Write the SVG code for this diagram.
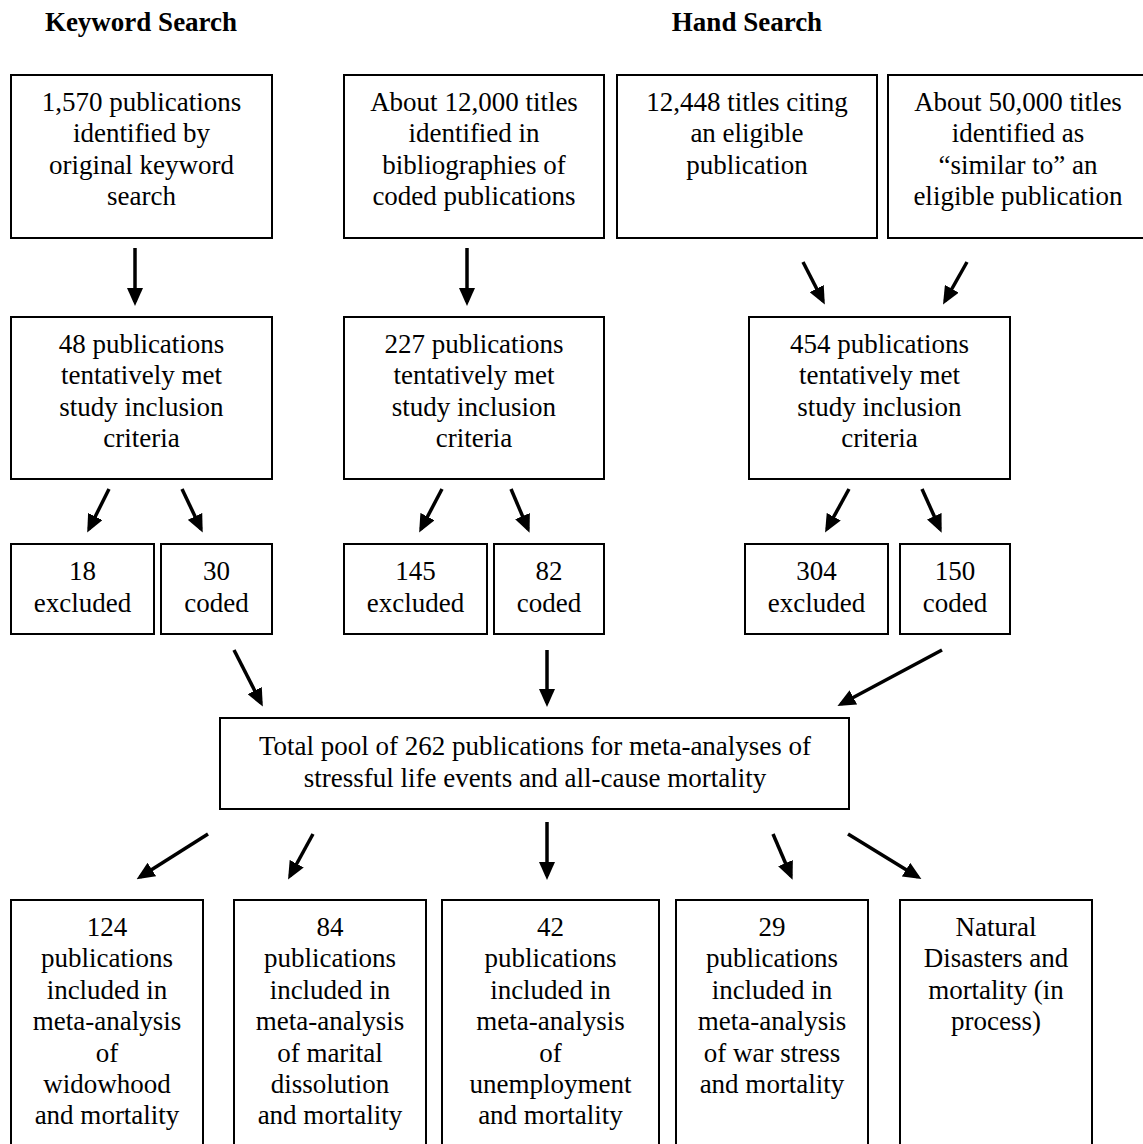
<svg xmlns="http://www.w3.org/2000/svg" width="1143" height="1144" viewBox="0 0 1143 1144">
<style>
.box{fill:#fff;stroke:#000;stroke-width:2}
.lbl{font-size:27px;text-anchor:middle;fill:#000}
.hd{font-size:27px;font-weight:bold;text-anchor:middle;fill:#000}
.c{stroke:#000;stroke-width:3.5;fill:none;marker-end:url(#ah)}
</style>
<defs>
<marker id="ah" markerUnits="userSpaceOnUse" markerWidth="18" markerHeight="16" viewBox="0 0 18 16" refX="14" refY="8" orient="auto">
<path d="M0,0 L18,8 L0,16 z" fill="#000"/>
</marker>
</defs>
<rect width="1143" height="1144" fill="#fff"/>
<g id="headers" font-family="Liberation Serif, serif">
<text class="hd" x="141" y="31">Keyword Search</text>
<text class="hd" x="747" y="31">Hand Search</text>
</g>

<g id="n1" font-family="Liberation Serif, serif"><rect class="box" x="11" y="75" width="261" height="163"/>
<text class="lbl" x="141.5" y="111">1,570 publications</text><text class="lbl" x="141.5" y="142">identified by</text><text class="lbl" x="141.5" y="174">original keyword</text><text class="lbl" x="141.5" y="205">search</text></g>
<g id="n2" font-family="Liberation Serif, serif"><rect class="box" x="344" y="75" width="260" height="163"/>
<text class="lbl" x="474" y="111">About 12,000 titles</text><text class="lbl" x="474" y="142">identified in</text><text class="lbl" x="474" y="174">bibliographies of</text><text class="lbl" x="474" y="205">coded publications</text></g>
<g id="n3" font-family="Liberation Serif, serif"><rect class="box" x="617" y="75" width="260" height="163"/>
<text class="lbl" x="747" y="111">12,448 titles citing</text><text class="lbl" x="747" y="142">an eligible</text><text class="lbl" x="747" y="174">publication</text></g>
<g id="n4" font-family="Liberation Serif, serif"><rect class="box" x="888" y="75" width="262" height="163"/>
<text class="lbl" x="1018" y="111">About 50,000 titles</text><text class="lbl" x="1018" y="142">identified as</text><text class="lbl" x="1018" y="174">“similar to” an</text><text class="lbl" x="1018" y="205">eligible publication</text></g>

<g id="n5" font-family="Liberation Serif, serif"><rect class="box" x="11" y="317" width="261" height="162"/>
<text class="lbl" x="141.5" y="353">48 publications</text><text class="lbl" x="141.5" y="384">tentatively met</text><text class="lbl" x="141.5" y="416">study inclusion</text><text class="lbl" x="141.5" y="447">criteria</text></g>
<g id="n6" font-family="Liberation Serif, serif"><rect class="box" x="344" y="317" width="260" height="162"/>
<text class="lbl" x="474" y="353">227 publications</text><text class="lbl" x="474" y="384">tentatively met</text><text class="lbl" x="474" y="416">study inclusion</text><text class="lbl" x="474" y="447">criteria</text></g>
<g id="n7" font-family="Liberation Serif, serif"><rect class="box" x="749" y="317" width="261" height="162"/>
<text class="lbl" x="879.5" y="353">454 publications</text><text class="lbl" x="879.5" y="384">tentatively met</text><text class="lbl" x="879.5" y="416">study inclusion</text><text class="lbl" x="879.5" y="447">criteria</text></g>

<g id="n8" font-family="Liberation Serif, serif"><rect class="box" x="11" y="544" width="143" height="90"/>
<text class="lbl" x="82.5" y="580">18</text><text class="lbl" x="82.5" y="612">excluded</text></g>
<g id="n9" font-family="Liberation Serif, serif"><rect class="box" x="161" y="544" width="111" height="90"/>
<text class="lbl" x="216.5" y="580">30</text><text class="lbl" x="216.5" y="612">coded</text></g>
<g id="n10" font-family="Liberation Serif, serif"><rect class="box" x="344" y="544" width="143" height="90"/>
<text class="lbl" x="415.5" y="580">145</text><text class="lbl" x="415.5" y="612">excluded</text></g>
<g id="n11" font-family="Liberation Serif, serif"><rect class="box" x="494" y="544" width="110" height="90"/>
<text class="lbl" x="549" y="580">82</text><text class="lbl" x="549" y="612">coded</text></g>
<g id="n12" font-family="Liberation Serif, serif"><rect class="box" x="745" y="544" width="143" height="90"/>
<text class="lbl" x="816.5" y="580">304</text><text class="lbl" x="816.5" y="612">excluded</text></g>
<g id="n13" font-family="Liberation Serif, serif"><rect class="box" x="900" y="544" width="110" height="90"/>
<text class="lbl" x="955" y="580">150</text><text class="lbl" x="955" y="612">coded</text></g>

<g id="n14" font-family="Liberation Serif, serif"><rect class="box" x="220" y="718" width="629" height="91"/>
<text class="lbl" x="535" y="755">Total pool of 262 publications for meta-analyses of</text><text class="lbl" x="535" y="787">stressful life events and all-cause mortality</text></g>

<g id="n15" font-family="Liberation Serif, serif"><rect class="box" x="11" y="900" width="192" height="260"/>
<text class="lbl" x="107" y="936">124</text><text class="lbl" x="107" y="967">publications</text><text class="lbl" x="107" y="999">included in</text><text class="lbl" x="107" y="1030">meta-analysis</text><text class="lbl" x="107" y="1062">of</text><text class="lbl" x="107" y="1093">widowhood</text><text class="lbl" x="107" y="1124">and mortality</text></g>
<g id="n16" font-family="Liberation Serif, serif"><rect class="box" x="234" y="900" width="192" height="260"/>
<text class="lbl" x="330" y="936">84</text><text class="lbl" x="330" y="967">publications</text><text class="lbl" x="330" y="999">included in</text><text class="lbl" x="330" y="1030">meta-analysis</text><text class="lbl" x="330" y="1062">of marital</text><text class="lbl" x="330" y="1093">dissolution</text><text class="lbl" x="330" y="1124">and mortality</text></g>
<g id="n17" font-family="Liberation Serif, serif"><rect class="box" x="442" y="900" width="217" height="260"/>
<text class="lbl" x="550.5" y="936">42</text><text class="lbl" x="550.5" y="967">publications</text><text class="lbl" x="550.5" y="999">included in</text><text class="lbl" x="550.5" y="1030">meta-analysis</text><text class="lbl" x="550.5" y="1062">of</text><text class="lbl" x="550.5" y="1093">unemployment</text><text class="lbl" x="550.5" y="1124">and mortality</text></g>
<g id="n18" font-family="Liberation Serif, serif"><rect class="box" x="676" y="900" width="192" height="260"/>
<text class="lbl" x="772" y="936">29</text><text class="lbl" x="772" y="967">publications</text><text class="lbl" x="772" y="999">included in</text><text class="lbl" x="772" y="1030">meta-analysis</text><text class="lbl" x="772" y="1062">of war stress</text><text class="lbl" x="772" y="1093">and mortality</text></g>
<g id="n19" font-family="Liberation Serif, serif"><rect class="box" x="900" y="900" width="192" height="260"/>
<text class="lbl" x="996" y="936">Natural</text><text class="lbl" x="996" y="967">Disasters and</text><text class="lbl" x="996" y="999">mortality (in</text><text class="lbl" x="996" y="1030">process)</text></g>

<g id="connectors">
<line class="c" x1="135" y1="248" x2="135" y2="302"/>
<line class="c" x1="467" y1="248" x2="467" y2="302"/>
<line class="c" x1="803" y1="262" x2="823" y2="301"/>
<line class="c" x1="967" y1="262" x2="945" y2="301"/>
<line class="c" x1="109" y1="489" x2="89" y2="529"/>
<line class="c" x1="182" y1="489" x2="201" y2="529"/>
<line class="c" x1="442" y1="489" x2="421" y2="529"/>
<line class="c" x1="511" y1="489" x2="528" y2="529"/>
<line class="c" x1="849" y1="489" x2="827" y2="529"/>
<line class="c" x1="922" y1="489" x2="940" y2="529"/>
<line class="c" x1="234" y1="650" x2="261" y2="703"/>
<line class="c" x1="547" y1="650" x2="547" y2="703"/>
<line class="c" x1="942" y1="650" x2="841" y2="704"/>
<line class="c" x1="208" y1="834" x2="140" y2="877"/>
<line class="c" x1="313" y1="834" x2="290" y2="876"/>
<line class="c" x1="547" y1="822" x2="547" y2="876"/>
<line class="c" x1="773" y1="834" x2="791" y2="876"/>
<line class="c" x1="848" y1="834" x2="918" y2="877"/>
</g>
</svg>
